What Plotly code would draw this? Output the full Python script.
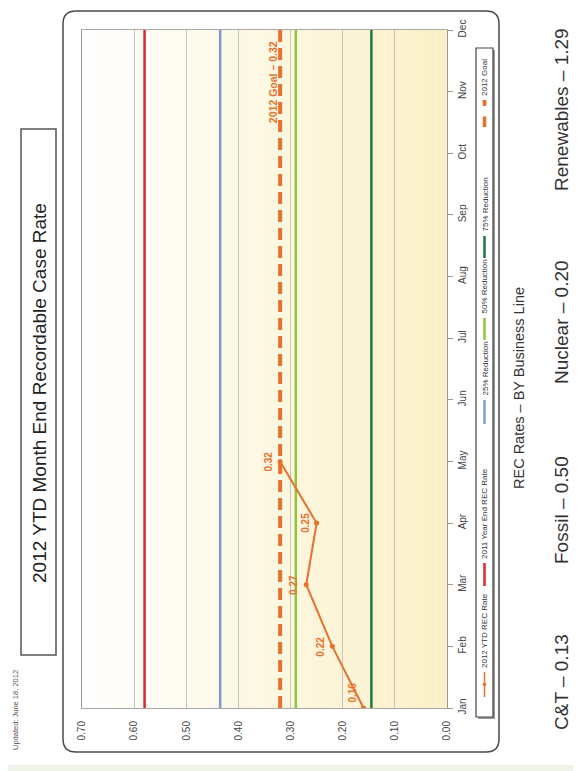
import plotly.graph_objects as go

# ---------------- data ----------------
months = ["Jan", "Feb", "Mar", "Apr", "May", "Jun", "Jul", "Aug", "Sep", "Oct", "Nov", "Dec"]
ytd_months = ["Jan", "Feb", "Mar", "Apr", "May"]
ytd_rate = [0.16, 0.22, 0.27, 0.25, 0.32]
ytd_labels = ["0.16", "0.22", "0.27", "0.25", "0.32"]

rate_2011 = 0.58
reduction_25 = 0.435
reduction_50 = 0.29
reduction_75 = 0.145
goal_2012 = 0.32
goal_label = "2012 Goal – 0.32"

value_ticks = [0.0, 0.1, 0.2, 0.3, 0.4, 0.5, 0.6, 0.7]
value_tick_text = ["0.00", "0.10", "0.20", "0.30", "0.40", "0.50", "0.60", "0.70"]

legend_names = ["2012 YTD REC Rate", "2011 Year End REC Rate", "25% Reduction",
                "50% Reduction", "75% Reduction", "2012 Goal"]

business_lines = ["C&T – 0.13", "Fossil – 0.50", "Nuclear – 0.20", "Renewables – 1.29"]

# ---------------- style ----------------
ORANGE = "#E8712D"
RED = "#D7282F"
BLUE = "#7F9BD3"
LGREEN = "#8DC63F"
DGREEN = "#1D7A3F"
FONT = "Liberation Sans, Arial, sans-serif"

OFF = 8                      # page body margin
W, H = 581 - OFF, 771 - OFF  # figure size
L, R, T, B = 82, 447, 30, 708  # plot area in page pixels


def px(x):
    return (x - L) / (R - L)


def py(y):
    return (B - y) / (B - T)


fig = go.Figure()

# reference lines
ref_lines = [
    (rate_2011, RED, 2.5),
    (reduction_25, BLUE, 2.5),
    (reduction_50, LGREEN, 2.5),
    (reduction_75, DGREEN, 2.5),
]
for v, c, w in ref_lines:
    fig.add_trace(go.Scatter(x=[v, v], y=[months[0], months[-1]], mode="lines",
                             line=dict(color=c, width=w), hoverinfo="skip",
                             showlegend=False))

fig.add_trace(go.Scatter(x=[goal_2012, goal_2012], y=[months[0], months[-1]], mode="lines",
                         line=dict(color=ORANGE, width=4, dash="12px,6px"),
                         showlegend=False))

fig.add_trace(go.Scatter(x=ytd_rate, y=ytd_months, mode="lines+markers",
                         line=dict(color=ORANGE, width=2),
                         marker=dict(color=ORANGE, size=5),
                         showlegend=False))

# data labels
for i, (v, m, t) in enumerate(zip(ytd_rate, ytd_months, ytd_labels)):
    fig.add_annotation(x=v, y=m, text="<b>%s</b>" % t, showarrow=False, textangle=-90,
                       xanchor="center", yanchor="middle",
                       xshift=-12, yshift=(15 if i == 0 else 0),
                       font=dict(family=FONT, size=10, color=ORANGE))

fig.add_annotation(x=goal_2012, y=months[-1], text="<b>%s</b>" % goal_label, showarrow=False,
                   textangle=-90, xanchor="center", yanchor="middle", xshift=-7, yshift=-52,
                   font=dict(family=FONT, size=10.5, color=ORANGE))

shapes = []
# gradient background of the plot area
n = 35
c0 = (255, 255, 255)
c1 = (251, 240, 198)
for k in range(n):
    t = (k + 0.5) / n
    col = tuple(int(round(c0[j] + (c1[j] - c0[j]) * t)) for j in range(3))
    x0 = 0.7 - 0.7 * k / n
    x1 = 0.7 - 0.7 * (k + 1) / n
    shapes.append(dict(type="rect", xref="x", yref="paper", x0=x0, x1=x1, y0=0, y1=1,
                       fillcolor="rgb(%d,%d,%d)" % col, line=dict(width=0), layer="below"))

# page border strip (light green) at the bottom
shapes.append(dict(type="rect", xref="paper", yref="paper", x0=px(0), x1=px(581), y0=py(775), y1=py(765),
                   fillcolor="#EEF5E8", line=dict(width=0), layer="below"))

# outer rounded frame
x0, x1, y0, y1, r = 63, 499, 11, 752, 13
def pt(x, y):
    return "%.5f,%.5f" % (px(x), py(y))
path = ("M " + pt(x0 + r, y0) + " L " + pt(x1 - r, y0) + " Q " + pt(x1, y0) + " " + pt(x1, y0 + r) +
        " L " + pt(x1, y1 - r) + " Q " + pt(x1, y1) + " " + pt(x1 - r, y1) +
        " L " + pt(x0 + r, y1) + " Q " + pt(x0, y1) + " " + pt(x0, y1 - r) +
        " L " + pt(x0, y0 + r) + " Q " + pt(x0, y0) + " " + pt(x0 + r, y0) + " Z")
shapes.append(dict(type="path", xref="paper", yref="paper", path=path,
                   line=dict(color="#4A4A4A", width=1.5)))

# title box
shapes.append(dict(type="rect", xref="paper", yref="paper", x0=px(21), x1=px(56), y0=py(655), y1=py(129),
                   line=dict(color="#555555", width=1.5)))

# legend box with shadow
shapes.append(dict(type="rect", xref="paper", yref="paper", x0=px(478), x1=px(495), y0=py(719), y1=py(50),
                   fillcolor="#9A9A9A", line=dict(width=0)))
shapes.append(dict(type="rect", xref="paper", yref="paper", x0=px(476), x1=px(493), y0=py(717), y1=py(48),
                   fillcolor="white", line=dict(color="#444444", width=1.2)))

# legend items: (symbol y start, symbol y end)
leg_pos = [(697, 672), (586, 563), (424, 400), (340, 318), (258, 236), (127, 100)]
leg_style = [(ORANGE, "solid", 1.5), (RED, "solid", 2.5), (BLUE, "solid", 2.5),
             (LGREEN, "solid", 2.5), (DGREEN, "solid", 2.5), (ORANGE, "dash", 3.5)]
lx = 484.5
for (s0, s1), (c, d, w), name in zip(leg_pos, leg_style, legend_names):
    shapes.append(dict(type="line", xref="paper", yref="paper", x0=px(lx), x1=px(lx), y0=py(s0), y1=py(s1),
                       line=dict(color=c, width=w, dash=d)))
    fig.add_annotation(xref="paper", yref="paper", x=px(lx), y=py(s1 - 2), text=name, showarrow=False,
                       textangle=-90, xanchor="center", yanchor="bottom",
                       font=dict(family=FONT, size=8, color="#333333"))
# legend markers
shapes.append(dict(type="circle", xref="paper", yref="paper", x0=px(lx - 1.8), x1=px(lx + 1.8),
                   y0=py(686.3), y1=py(682.7), fillcolor=ORANGE, line=dict(width=0)))
shapes.append(dict(type="circle", xref="paper", yref="paper", x0=px(lx - 2), x1=px(lx + 2),
                   y0=py(104), y1=py(100), fillcolor=ORANGE, line=dict(width=0)))


def text(x, y, s, size, color):
    fig.add_annotation(xref="paper", yref="paper", x=px(x), y=py(y), showarrow=False, textangle=-90,
                       xanchor="center", yanchor="middle", text=s,
                       font=dict(family=FONT, size=size, color=color))


# title and other texts
text(39, 393, "2012 YTD Month End Recordable Case Rate", 19, "#222222")
text(15, 710, "Updated: June 18, 2012", 7.5, "#555555")
text(519, 388, "REC Rates – BY Business Line", 14.5, "#333333")
for name, yc in zip(business_lines, [682, 510, 322, 110]):
    text(561, yc, name, 19, "#333333")

fig.update_layout(
    width=W, height=H,
    margin=dict(l=L - OFF, r=W - (R - OFF), t=T - OFF, b=H - (B - OFF)),
    paper_bgcolor="white", plot_bgcolor="white",
    shapes=shapes,
    showlegend=False,
    xaxis=dict(range=[0.7, 0.0], tickvals=value_ticks, ticktext=value_tick_text, tickangle=-90,
               showgrid=True, gridcolor="#C4C4C4", gridwidth=1, zeroline=False,
               showline=True, linecolor="#A8A8A8", linewidth=1, mirror=True,
               ticks="", ticklabelstandoff=8,
               tickfont=dict(family=FONT, size=10, color="#444444")),
    yaxis=dict(type="category", categoryorder="array", categoryarray=months, range=[0, 11],
               side="right", tickangle=-90, showgrid=False, zeroline=False,
               showline=True, linecolor="#999999", linewidth=1, mirror=True,
               ticks="outside", ticklen=5, tickcolor="#999999", ticklabelstandoff=1,
               tickfont=dict(family=FONT, size=10, color="#444444")),
)

fig.write_html("out.html")
